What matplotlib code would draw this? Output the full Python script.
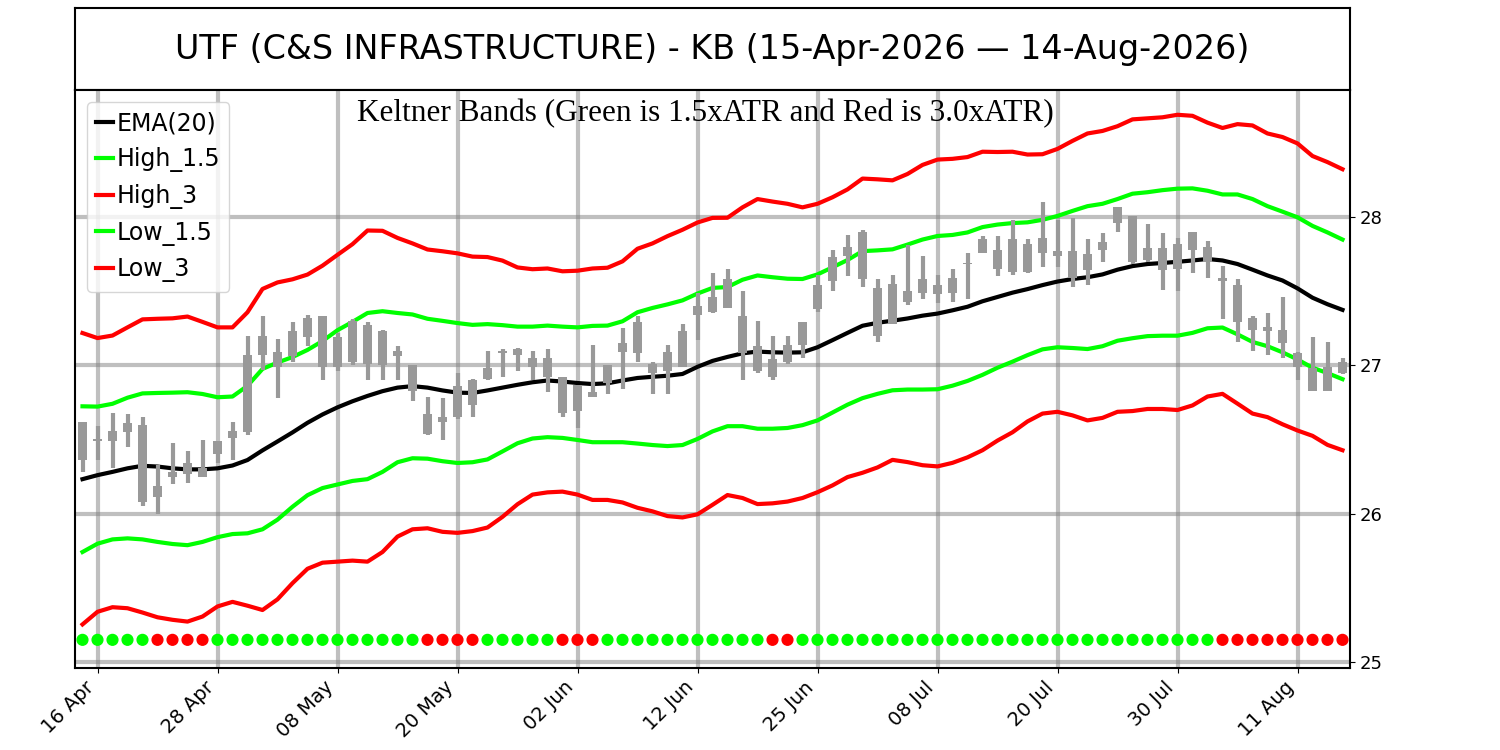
import numpy as np
import matplotlib
matplotlib.use("Agg")
import matplotlib.pyplot as plt

# Kursdata lest av bildet (85 handelsdager, 15-Apr-2026 -> 14-Aug-2026)
highs = [26.62, 26.59, 26.68, 26.67, 26.65, 26.33, 26.48, 26.42, 26.50, 26.49,
         26.62, 27.20, 27.33, 27.18, 27.29, 27.34, 27.33, 27.22, 27.31, 27.29,
         27.24, 27.13, 27.00, 26.79, 26.78, 26.95, 26.91, 27.10, 27.11, 27.12,
         27.10, 27.11, 26.92, 26.87, 27.14, 27.00, 27.25, 27.33, 27.02, 27.14,
         27.28, 27.49, 27.62, 27.65, 27.50, 27.30, 27.20, 27.20, 27.29, 27.61,
         27.78, 27.88, 27.91, 27.58, 27.61, 27.81, 27.74, 27.61, 27.65, 27.76,
         27.87, 27.87, 27.98, 27.85, 28.10, 27.98, 27.99, 27.85, 27.89, 28.07,
         28.01, 27.95, 27.89, 27.86, 27.90, 27.84, 27.67, 27.58, 27.33, 27.35,
         27.46, 27.09, 27.19, 27.16, 27.05]
lows = [26.28, 26.36, 26.31, 26.45, 26.05, 26.00, 26.20, 26.21, 26.25, 26.34,
        26.36, 26.53, 26.97, 26.78, 27.02, 27.13, 26.90, 26.96, 27.00, 26.90,
        26.90, 26.90, 26.76, 26.53, 26.50, 26.64, 26.65, 26.90, 26.92, 26.96,
        26.90, 26.82, 26.65, 26.58, 26.79, 26.81, 26.84, 27.02, 26.81, 26.81,
        26.99, 27.17, 27.35, 27.39, 26.90, 26.95, 26.90, 27.01, 27.05, 27.36,
        27.50, 27.60, 27.53, 27.16, 27.28, 27.41, 27.45, 27.42, 27.43, 27.45,
        27.76, 27.60, 27.61, 27.62, 27.66, 27.66, 27.53, 27.54, 27.70, 27.90,
        27.68, 27.70, 27.51, 27.50, 27.62, 27.59, 27.31, 27.16, 27.10, 27.07,
        27.05, 26.90, 26.83, 26.83, 26.94]
# alle lysene er graa, saa bare kroppens topp og bunn synes
body_top = [26.62, 26.505, 26.56, 26.61, 26.60, 26.19, 26.28, 26.34, 26.31, 26.49,
            26.56, 27.07, 27.20, 27.09, 27.23, 27.32, 27.33, 27.19, 27.30, 27.27,
            27.23, 27.10, 27.00, 26.67, 26.65, 26.86, 26.90, 26.98, 27.10, 27.11,
            27.05, 27.05, 26.92, 26.87, 26.82, 27.00, 27.15, 27.29, 27.01, 27.09,
            27.23, 27.40, 27.46, 27.58, 27.33, 27.13, 27.04, 27.14, 27.29, 27.54,
            27.73, 27.80, 27.90, 27.52, 27.55, 27.50, 27.58, 27.54, 27.59, 27.69,
            27.85, 27.78, 27.85, 27.82, 27.86, 27.77, 27.77, 27.75, 27.83, 28.07,
            28.01, 27.79, 27.79, 27.82, 27.90, 27.80, 27.59, 27.54, 27.32, 27.26,
            27.24, 27.08, 26.98, 26.99, 27.02]
body_bot = [26.36, 26.49, 26.49, 26.55, 26.08, 26.11, 26.25, 26.27, 26.25, 26.40,
            26.51, 26.55, 27.07, 26.99, 27.06, 27.19, 26.99, 26.99, 27.02, 27.01,
            27.00, 27.06, 26.83, 26.54, 26.62, 26.65, 26.73, 26.91, 27.08, 27.07,
            26.99, 26.92, 26.68, 26.69, 26.79, 26.88, 27.09, 27.08, 26.95, 26.96,
            26.99, 27.34, 27.36, 27.39, 27.08, 26.96, 26.92, 27.02, 27.14, 27.38,
            27.57, 27.74, 27.58, 27.20, 27.28, 27.43, 27.49, 27.48, 27.49, 27.68,
            27.76, 27.65, 27.63, 27.63, 27.76, 27.74, 27.59, 27.64, 27.78, 27.96,
            27.70, 27.71, 27.64, 27.65, 27.78, 27.70, 27.57, 27.29, 27.24, 27.23,
            27.15, 26.99, 26.83, 26.83, 26.95]

ema = [26.233, 26.260, 26.282, 26.306, 26.323, 26.318, 26.306, 26.299, 26.299, 26.306,
       26.325, 26.362, 26.427, 26.487, 26.548, 26.613, 26.669, 26.717, 26.758, 26.794,
       26.826, 26.850, 26.860, 26.850, 26.831, 26.816, 26.814, 26.831, 26.850, 26.869,
       26.886, 26.898, 26.891, 26.881, 26.874, 26.879, 26.898, 26.915, 26.923, 26.930,
       26.942, 26.990, 27.030, 27.057, 27.081, 27.093, 27.088, 27.086, 27.088, 27.122,
       27.170, 27.219, 27.267, 27.287, 27.301, 27.316, 27.335, 27.349, 27.371, 27.395,
       27.432, 27.461, 27.490, 27.514, 27.541, 27.565, 27.582, 27.594, 27.613, 27.645,
       27.669, 27.683, 27.690, 27.698, 27.707, 27.717, 27.707, 27.683, 27.645, 27.606,
       27.572, 27.519, 27.456, 27.412, 27.374]
high_15 = [26.724, 26.722, 26.741, 26.782, 26.811, 26.814, 26.816, 26.819, 26.807, 26.785,
           26.790, 26.862, 26.976, 27.019, 27.056, 27.104, 27.164, 27.237, 27.293, 27.353,
           27.365, 27.353, 27.343, 27.314, 27.300, 27.285, 27.273, 27.278, 27.271, 27.261,
           27.261, 27.268, 27.261, 27.256, 27.266, 27.268, 27.297, 27.358, 27.387, 27.411,
           27.438, 27.484, 27.522, 27.528, 27.577, 27.606, 27.594, 27.584, 27.582, 27.613,
           27.661, 27.710, 27.770, 27.775, 27.782, 27.814, 27.848, 27.872, 27.879, 27.896,
           27.932, 27.949, 27.959, 27.964, 27.981, 28.007, 28.041, 28.073, 28.089, 28.121,
           28.157, 28.167, 28.181, 28.191, 28.193, 28.177, 28.152, 28.152, 28.121, 28.073,
           28.036, 27.998, 27.940, 27.896, 27.848]
high_3 = [27.218, 27.184, 27.201, 27.256, 27.310, 27.314, 27.317, 27.329, 27.293, 27.256,
          27.256, 27.358, 27.515, 27.559, 27.580, 27.612, 27.672, 27.745, 27.817, 27.909,
          27.907, 27.859, 27.822, 27.781, 27.769, 27.755, 27.733, 27.730, 27.706, 27.660,
          27.648, 27.653, 27.634, 27.638, 27.653, 27.658, 27.701, 27.786, 27.822, 27.871,
          27.914, 27.963, 27.994, 27.995, 28.065, 28.121, 28.104, 28.089, 28.065, 28.089,
          28.133, 28.186, 28.259, 28.254, 28.247, 28.290, 28.351, 28.387, 28.392, 28.404,
          28.440, 28.438, 28.440, 28.421, 28.423, 28.459, 28.513, 28.563, 28.580, 28.612,
          28.658, 28.665, 28.672, 28.689, 28.682, 28.636, 28.600, 28.626, 28.617, 28.563,
          28.539, 28.496, 28.411, 28.370, 28.322]
low_15 = [25.742, 25.798, 25.827, 25.834, 25.827, 25.810, 25.796, 25.788, 25.810, 25.842,
          25.863, 25.868, 25.895, 25.960, 26.047, 26.125, 26.173, 26.197, 26.221, 26.233,
          26.282, 26.347, 26.374, 26.371, 26.354, 26.342, 26.347, 26.366, 26.420, 26.475,
          26.507, 26.516, 26.511, 26.497, 26.482, 26.482, 26.482, 26.473, 26.463, 26.456,
          26.463, 26.504, 26.555, 26.590, 26.590, 26.573, 26.573, 26.578, 26.597, 26.629,
          26.682, 26.735, 26.779, 26.808, 26.832, 26.837, 26.837, 26.839, 26.863, 26.895,
          26.936, 26.984, 27.025, 27.069, 27.108, 27.122, 27.117, 27.110, 27.129, 27.166,
          27.183, 27.197, 27.200, 27.200, 27.219, 27.250, 27.255, 27.209, 27.158, 27.129,
          27.088, 27.040, 26.984, 26.948, 26.907]
low_3 = [25.254, 25.339, 25.370, 25.363, 25.334, 25.302, 25.285, 25.273, 25.307, 25.375,
         25.406, 25.380, 25.351, 25.423, 25.532, 25.629, 25.670, 25.677, 25.684, 25.677,
         25.742, 25.846, 25.895, 25.902, 25.878, 25.871, 25.883, 25.907, 25.979, 26.064,
         26.129, 26.144, 26.149, 26.129, 26.093, 26.093, 26.076, 26.040, 26.016, 25.984,
         25.975, 25.996, 26.060, 26.126, 26.106, 26.065, 26.070, 26.082, 26.106, 26.145,
         26.191, 26.247, 26.276, 26.312, 26.363, 26.348, 26.327, 26.319, 26.343, 26.380,
         26.428, 26.493, 26.549, 26.622, 26.675, 26.687, 26.663, 26.629, 26.646, 26.687,
         26.692, 26.706, 26.706, 26.699, 26.730, 26.790, 26.808, 26.742, 26.675, 26.651,
         26.603, 26.561, 26.525, 26.464, 26.428]

# G = gronn prikk, R = rod prikk (signalrad nederst)
signals = "GGGGGRRRRGGGGGGGGGGGGGGRRRRGGGGGRRRGGGGGGGGGGGRRGGGGGGGGGGGGGGGGGGGGGGGGGGGGRRRRRRRRR"

tick_labels = ['16 Apr', '28 Apr', '08 May', '20 May', '02 Jun', '12 Jun',
               '25 Jun', '08 Jul', '20 Jul', '30 Jul', '11 Aug']
title = 'UTF (C&S INFRASTRUCTURE) - KB (15-Apr-2026 \u2014 14-Aug-2026)'
subtitle = 'Keltner Bands (Green is 1.5xATR and Red is 3.0xATR)'

x = np.arange(len(highs))
body_top = np.array(body_top)
body_bot = np.array(body_bot)

fig = plt.figure(figsize=(15, 7.5), dpi=100)

# tittelboks
ax_t = fig.add_axes([0.05, 0.88, 0.85, 0.1093])
ax_t.set_xticks([])
ax_t.set_yticks([])
for s in ax_t.spines.values():
    s.set_linewidth(1.5)
ax_t.text(0.5, 0.5, title, ha='center', va='center', fontsize=24, transform=ax_t.transAxes)

# hovedplott
ax = fig.add_axes([0.05, 0.1093, 0.85, 0.7707])
for s in ax.spines.values():
    s.set_linewidth(1.5)
ax.set_axisbelow(True)
ax.grid(True, color='gray', alpha=0.5, linewidth=3)

ax.plot(x, ema, color='black', lw=3, label='EMA(20)', zorder=2)
ax.plot(x, high_15, color='#00ff00', lw=3, label='High_1.5', zorder=2)
ax.plot(x, high_3, color='#ff0000', lw=3, label='High_3', zorder=2)
ax.plot(x, low_15, color='#00ff00', lw=3, label='Low_1.5', zorder=2)
ax.plot(x, low_3, color='#ff0000', lw=3, label='Low_3', zorder=2)

# lys (candlesticks)
ax.vlines(x, lows, highs, color='#999999', lw=3, zorder=3)
ax.bar(x, body_top - body_bot, bottom=body_bot, width=0.65, color='#999999', zorder=3)

dot_colors = ['#00ff00' if s == 'G' else '#ff0000' for s in signals]
ax.scatter(x, np.full(len(x), 25.15), c=dot_colors, s=60, zorder=4)

ax.set_xlim(-0.5, 84.5)
ax.set_ylim(24.96, 28.856)
ax.yaxis.tick_right()
ax.set_yticks([25, 26, 27, 28])
ax.set_xticks(np.arange(1, len(x), 8))
ax.set_xticklabels(tick_labels, rotation=45, ha='right')
ax.tick_params(axis='x', labelsize=14)
ax.tick_params(axis='y', labelsize=13)

ax.text(0.4945, 0.985, subtitle, ha='center', va='top', transform=ax.transAxes,
        fontsize=22.5, family='Liberation Serif')

ax.legend(loc='upper left', fontsize=17, labelspacing=0.5, handlelength=0.7,
          handletextpad=0.15, borderaxespad=0.5)

fig.savefig('out.png', dpi=100)
